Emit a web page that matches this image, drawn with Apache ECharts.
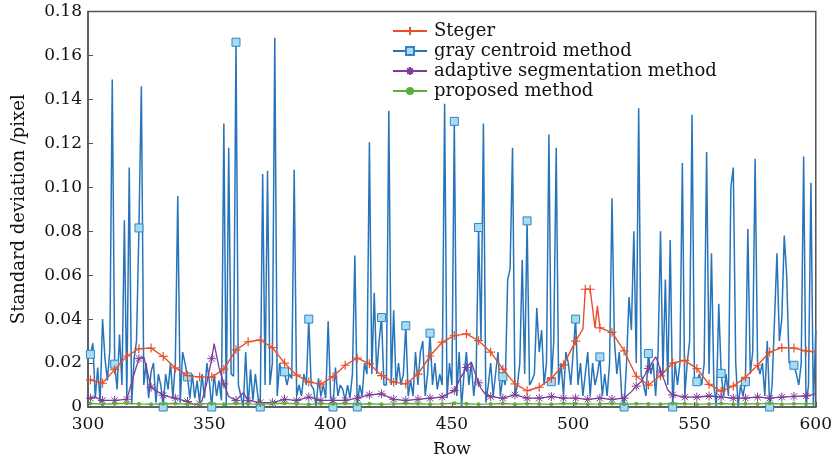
<!DOCTYPE html>
<html>
<head>
<meta charset="utf-8">
<script src="https://cdn.jsdelivr.net/npm/echarts@6/dist/echarts.min.js"></script>
<style>html,body{margin:0;padding:0;background:#fff}#c{width:835px;height:463px}</style>
</head>
<body>
<div id="c"></div>
<script>
// ---- data ----
const xTicks = [300, 350, 400, 450, 500, 550, 600];
const yTicks = [0, 0.02, 0.04, 0.06, 0.08, 0.10, 0.12, 0.14, 0.16, 0.18];
const seriesNames = ['Steger', 'gray centroid method', 'adaptive segmentation method', 'proposed method'];

// gray centroid method: one value per row, rows 301..600
const grayStartRow = 301;
const grayCentroid = [
  0.024,0.029,0.004,0.018,0.002,0.040,0.022,0.012,0.026,0.149,
  0.0195,0.008,0.033,0.010,0.085,0.004,0.109,0.001,0.022,0.030,
  0.0815,0.146,0.010,0.020,0.004,0.016,0.020,0.002,0.015,0.010,
  0.000,0.015,0.008,0.020,0.004,0.020,0.096,0.002,0.025,0.020,
  0.0137,0.004,0.015,0.004,0.012,0.002,0.015,0.004,0.020,0.012,
  0.000,0.015,0.005,0.012,0.003,0.129,0.000,0.118,0.015,0.014,
  0.166,0.010,0.005,0.000,0.025,0.000,0.017,0.003,0.015,0.005,
  0.000,0.106,0.010,0.1075,0.010,0.020,0.168,0.005,0.020,0.015,
  0.016,0.010,0.015,0.013,0.108,0.005,0.010,0.005,0.015,0.010,
  0.040,0.010,0.008,0.000,0.013,0.005,0.010,0.004,0.039,0.005,
  0.000,0.018,0.005,0.010,0.008,0.003,0.010,0.004,0.015,0.069,
  0.000,0.010,0.005,0.020,0.015,0.1205,0.015,0.052,0.015,0.030,
  0.0407,0.010,0.010,0.1348,0.010,0.044,0.010,0.020,0.010,0.015,
  0.037,0.005,0.012,0.005,0.025,0.010,0.025,0.030,0.005,0.015,
  0.0336,0.010,0.020,0.008,0.015,0.010,0.138,0.004,0.020,0.010,
  0.130,0.005,0.025,0.000,0.015,0.025,0.010,0.020,0.005,0.015,
  0.0817,0.030,0.129,0.002,0.010,0.020,0.005,0.015,0.025,0.005,
  0.0138,0.010,0.058,0.063,0.118,0.005,0.010,0.020,0.067,0.015,
  0.0847,0.010,0.012,0.015,0.045,0.025,0.035,0.010,0.020,0.124,
  0.0115,0.030,0.118,0.010,0.020,0.005,0.025,0.020,0.010,0.025,
  0.040,0.010,0.020,0.005,0.015,0.025,0.005,0.020,0.010,0.015,
  0.0228,0.005,0.015,0.005,0.020,0.095,0.030,0.015,0.025,0.005,
  0.000,0.020,0.050,0.035,0.080,0.020,0.136,0.015,0.010,0.005,
  0.0243,0.015,0.020,0.005,0.025,0.080,0.015,0.058,0.010,0.076,
  0.000,0.020,0.010,0.020,0.111,0.005,0.020,0.030,0.133,0.010,
  0.0115,0.015,0.010,0.020,0.116,0.015,0.070,0.010,0.000,0.047,
  0.0153,0.005,0.015,0.005,0.100,0.109,0.020,0.000,0.010,0.005,
  0.0115,0.081,0.015,0.025,0.113,0.020,0.015,0.020,0.005,0.030,
  0.000,0.010,0.040,0.070,0.030,0.040,0.078,0.060,0.020,0.020,
  0.019,0.015,0.010,0.020,0.114,0.000,0.010,0.102,0.000,0.035
];

// Steger
const stegerRows = [301,306,311,316,321,326,331,336,341,346,351,356,361,366,371,376,381,386,391,396,
  401,406,411,416,421,426,431,436,441,446,451,456,461,466,471,476,481,486,491,496,501,
  504,505,507,509,510,511,516,521,526,531,536,541,546,551,556,561,566,571,576,581,586,591,596,600];
const stegerVals = [0.0123,0.0108,0.017,0.0232,0.0265,0.0268,0.023,0.0178,0.0143,0.0137,
  0.0136,0.0172,0.026,0.0297,0.0305,0.027,0.020,0.0145,0.0114,0.0104,
  0.0138,0.019,0.0222,0.0197,0.0143,0.0113,0.0105,0.015,0.0232,0.0295,
  0.0325,0.0333,0.0302,0.025,0.0172,0.0105,0.0074,0.009,0.013,0.0192,0.030,
  0.0355,0.0536,0.0536,0.036,0.046,0.036,0.034,0.0255,0.014,0.010,0.0142,0.020,0.0212,0.0175,
  0.0103,0.0072,0.0095,0.0135,0.019,0.025,0.027,0.0268,0.0255,0.025];

// adaptive segmentation method
const adaptRows = [301,303,306,311,316,319,321,323,326,331,336,341,344,346,347,349,351,352,354,356,
  358,361,364,366,371,376,381,386,391,396,401,406,411,416,421,426,431,436,441,446,
  451,453,455,456,458,460,461,462,464,466,471,476,481,486,491,496,501,506,511,516,
  521,524,526,528,531,534,535,536,537,539,541,546,551,556,561,566,571,576,581,586,591,596,600];
const adaptVals = [0.004,0.0045,0.003,0.003,0.0035,0.015,0.022,0.0228,0.009,0.0053,
  0.004,0.0025,0.001,0.0015,0.003,0.011,0.022,0.0288,0.018,0.0105,
  0.0048,0.003,0.0065,0.003,0.002,0.002,0.0035,0.003,0.0045,0.003,
  0.003,0.003,0.004,0.0055,0.006,0.0035,0.003,0.0035,0.004,0.0045,
  0.0075,0.012,0.016,0.018,0.0205,0.014,0.011,0.0085,0.0055,0.0047,
  0.004,0.0055,0.004,0.004,0.0047,0.004,0.004,0.0035,0.004,0.0035,
  0.004,0.007,0.0095,0.0115,0.0175,0.0228,0.0205,0.016,0.0138,0.0077,
  0.0055,0.0045,0.0045,0.005,0.0045,0.004,0.004,0.0045,0.004,0.0045,
  0.0048,0.005,0.006];

// proposed method (rows 301, 306, ..., 596, 600)
const proposedVals = [0.0016,0.0013,0.0015,0.0017,0.0014,0.0012,0.0015,0.0016,0.0013,0.0014,
  0.0015,0.0012,0.0016,0.0014,0.0013,0.0015,0.0017,0.0014,0.0012,0.0015,
  0.0014,0.0016,0.0013,0.0015,0.0012,0.0014,0.0016,0.0015,0.0013,0.0014,
  0.0017,0.0015,0.0012,0.0014,0.0016,0.0013,0.0015,0.0014,0.0012,0.0016,
  0.0015,0.0013,0.0014,0.0016,0.0012,0.0015,0.0014,0.0013,0.0016,0.0015,
  0.0012,0.0014,0.0016,0.0013,0.0015,0.0014,0.0017,0.0013,0.0015,0.0014,
  0.0016];

// ---- build ----
const FONT = 'DejaVu Serif';
const C_OR = '#E8502A', C_BL = '#2674BA', C_PU = '#7D3C98', C_GR = '#5DAE38';

const proposedRows = proposedVals.map((v, i) => Math.min(301 + 5 * i, 600));
function mark(r, extra) { return (r - 301) % 5 === 0 || (extra && extra.indexOf(r) >= 0); }

const grayData = grayCentroid.map((v, i) => {
  const r = grayStartRow + i;
  return i % 10 === 0 ? { value: [r, v] } : { value: [r, v], symbol: 'none' };
});
const stegerData = stegerRows.map((r, i) => mark(r, [505, 507]) && r !== 600 ? { value: [r, stegerVals[i]] } : { value: [r, stegerVals[i]], symbol: 'none' });
const adaptData = adaptRows.map((r, i) => mark(r) ? { value: [r, adaptVals[i]] } : { value: [r, adaptVals[i]], symbol: 'none' });
const propData = proposedRows.map((r, i) => mark(r) ? { value: [r, proposedVals[i]] } : { value: [r, proposedVals[i]], symbol: 'none' });

const chart = echarts.init(document.getElementById('c'), null, { renderer: 'canvas' });
chart.setOption({
  animation: false,
  backgroundColor: '#fff',
  textStyle: { fontFamily: FONT },
  grid: { left: 88, right: 12, top: 11.5, bottom: 53.5, show: true, borderColor: '#555', borderWidth: 1.5, backgroundColor: '#fff' },
  legend: {
    orient: 'vertical', left: 387, top: 16,
    itemWidth: 34, itemHeight: 10, itemGap: 0,
    textStyle: { fontFamily: FONT, fontSize: 18, color: '#111', lineHeight: 20, padding: [0, 0, 0, 2] },
    data: seriesNames
  },
  xAxis: {
    type: 'value', min: 300, max: 600, interval: 50,
    name: 'Row', nameLocation: 'middle', nameGap: 34,
    nameTextStyle: { fontFamily: FONT, fontSize: 17, color: '#111' },
    axisLine: { show: true, lineStyle: { color: '#555', width: 1.5 } },
    axisTick: { show: true, inside: true, length: 5, lineStyle: { color: '#555' } },
    axisLabel: { fontFamily: FONT, fontSize: 17, color: '#111', margin: 9,
      formatter: v => xTicks.indexOf(v) >= 0 ? String(v) : '' },
    splitLine: { show: false }
  },
  yAxis: {
    type: 'value', min: 0, max: 0.18, interval: 0.02,
    name: 'Standard deviation /pixel', nameLocation: 'middle', nameGap: 60,
    nameTextStyle: { fontFamily: FONT, fontSize: 18, color: '#111' },
    axisLine: { show: true, lineStyle: { color: '#555', width: 1.5 } },
    axisTick: { show: true, inside: true, length: 5, lineStyle: { color: '#555' } },
    axisLabel: { fontFamily: FONT, fontSize: 17, color: '#111', margin: 6,
      formatter: v => { const t = yTicks.find(y => Math.abs(y - v) < 1e-9); return t === undefined ? '' : (t === 0 ? '0' : t.toFixed(2)); } },
    splitLine: { show: false }
  },
  series: [
    {
      name: seriesNames[0], type: 'line', z: 4, data: stegerData,
      symbol: 'path://M5,0V10M0,5H10', symbolSize: 9,
      lineStyle: { color: C_OR, width: 1.4 },
      itemStyle: { color: C_OR, borderColor: C_OR, borderWidth: 1.2 }
    },
    {
      name: seriesNames[1], type: 'line', z: 3, data: grayData,
      symbol: 'rect', symbolSize: 8,
      lineStyle: { color: C_BL, width: 1.5 },
      itemStyle: { color: '#A9DAF2', borderColor: '#2B86C8', borderWidth: 1 }
    },
    {
      name: seriesNames[2], type: 'line', z: 5, data: adaptData,
      symbol: 'path://M5,0V10M0,5H10M1.5,1.5L8.5,8.5M8.5,1.5L1.5,8.5', symbolSize: 9,
      lineStyle: { color: C_PU, width: 1.3 },
      itemStyle: { color: C_PU, borderColor: C_PU, borderWidth: 1 }
    },
    {
      name: seriesNames[3], type: 'line', z: 6, data: propData,
      symbol: 'circle', symbolSize: 4,
      lineStyle: { color: C_GR, width: 1.4 },
      itemStyle: { color: C_GR, borderWidth: 0 }
    }
  ]
});
</script>
</body>
</html>
